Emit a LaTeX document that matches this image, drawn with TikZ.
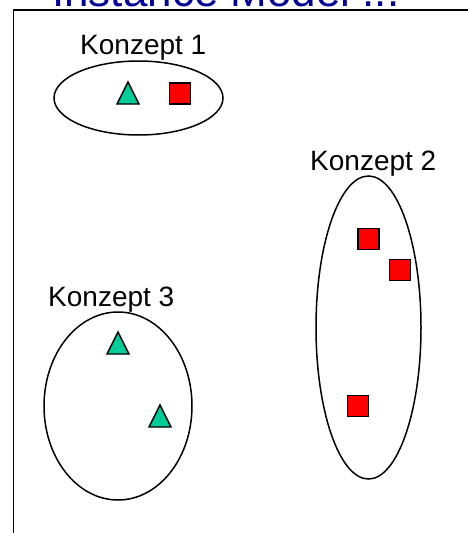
\documentclass[tikz,border=0pt]{standalone}
\usepackage{fontspec}
\setmainfont{Liberation Sans}
\usetikzlibrary{shapes.geometric}
\definecolor{titleblue}{RGB}{0,0,150}
\definecolor{tealgreen}{RGB}{0,204,153}
\begin{document}
\begin{tikzpicture}[x=1pt,y=-1pt,
  concept/.style={draw=black,line width=1.5pt,ellipse,inner sep=0pt},
  lbl/.style={font=\fontsize{28}{34}\selectfont,anchor=base west,inner sep=0pt},
  redsq/.style={draw=black,fill=red,line width=1.4pt,minimum size=21pt,inner sep=0pt},
  tri/.style={draw=black,fill=tealgreen,line width=1.4pt,line join=miter}]
\useasboundingbox (0,0) rectangle (468,533);
\begin{scope}
\clip (0,0) rectangle (468,533);
\node[anchor=base west,inner sep=0pt,text=titleblue,font=\fontsize{44}{52}\selectfont] (title) at (52,6) {Instance Model ...};
\draw[line width=1.6pt] (13.5,560) -- (13.5,9.8) -- (480,9.8);
\end{scope}
% Konzept 1
\node[concept,minimum width=169pt,minimum height=74pt] (k1) at (138.5,98) {};
\node[lbl] (l1) at (80,54) {Konzept 1};
\draw[tri] (117,104) -- (139,104) -- (128,82) -- cycle;
\node[redsq] (s1) at (180,93.5) {};
% Konzept 2
\node[concept,minimum width=105pt,minimum height=303pt] (k2) at (368.5,327.5) {};
\node[lbl] (l2) at (310,170) {Konzept 2};
\node[redsq] (s2a) at (368.5,239) {};
\node[redsq] (s2b) at (400,270) {};
\node[redsq] (s2c) at (358,406) {};
% Konzept 3
\node[concept,minimum width=148pt,minimum height=188pt] (k3) at (118,406) {};
\node[lbl] (l3) at (48,306) {Konzept 3};
\draw[tri] (107,354) -- (129,354) -- (118,332) -- cycle;
\draw[tri] (149,427) -- (171,427) -- (160,405) -- cycle;
\end{tikzpicture}
\end{document}
